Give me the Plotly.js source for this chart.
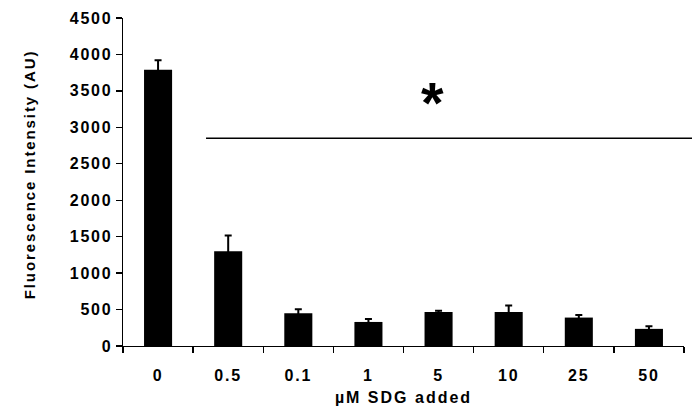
<!DOCTYPE html>
<html>
<head>
<meta charset="utf-8">
<script src="https://cdn.plot.ly/plotly-3.0.1.min.js"></script>
<style>
  html, body { margin: 0; padding: 0; background: #fff; }
  #chart { width: 692px; height: 407px; }
  .ytitlespaced { letter-spacing: 1.9px; }
  .xtick text, .ytick text { letter-spacing: 1.8px; }
  .xtitle { letter-spacing: 2px; }
</style>
</head>
<body>
<div id="chart"></div>
<script>
// Data
const categories = ["0", "0.5", "0.1", "1", "5", "10", "25", "50"];
const intensity = [3790, 1300, 450, 330, 465, 465, 390, 235];
const errorUp = [130, 215, 55, 40, 20, 90, 35, 35];
const yTickVals = [0, 500, 1000, 1500, 2000, 2500, 3000, 3500, 4000, 4500];

// Significance marker (line + asterisk)
const sigLineY = 2850;
const sigStarY = 3440;

const font = "Liberation Sans, Arial, sans-serif";

const trace = {
  type: "bar",
  x: categories,
  y: intensity,
  marker: { color: "#000000", line: { width: 0 } },
  error_y: {
    type: "data",
    array: errorUp,
    symmetric: true,
    visible: true,
    color: "#000000",
    thickness: 2,
    width: 3.5
  },
  hoverinfo: "skip"
};

const layout = {
  width: 692,
  height: 407,
  margin: { l: 123, r: 8, t: 17.5, b: 60.5, pad: 0 },
  paper_bgcolor: "#ffffff",
  plot_bgcolor: "#ffffff",
  showlegend: false,
  bargap: 0.6,
  font: { family: font, color: "#000000" },
  xaxis: {
    type: "category",
    showgrid: false,
    zeroline: false,
    showline: true,
    linecolor: "#000000",
    linewidth: 1.3,
    ticks: "outside",
    tickson: "boundaries",
    ticklen: 6,
    tickwidth: 1.3,
    tickcolor: "#000000",
    ticklabelstandoff: 14,
    tickfont: { family: font, size: 16, color: "#000000", weight: "bold" },
    title: {
      text: "µM SDG added",
      font: { family: font, size: 16, color: "#000000", weight: "bold" },
      standoff: 9
    },
    automargin: false
  },
  yaxis: {
    range: [0, 4500],
    tickvals: yTickVals,
    showgrid: false,
    zeroline: false,
    showline: true,
    linecolor: "#000000",
    linewidth: 1.3,
    ticks: "outside",
    ticklen: 6,
    tickwidth: 1.3,
    tickcolor: "#000000",
    tickfont: { family: font, size: 16, color: "#000000", weight: "bold" },
    automargin: false
  },
  shapes: [
    {
      type: "line",
      xref: "paper",
      yref: "y",
      x0: 0.148,
      x1: 1.02,
      y0: sigLineY,
      y1: sigLineY,
      line: { color: "#000000", width: 1.6 }
    }
  ],
  annotations: [
    {
      text: "*",
      xref: "paper",
      yref: "y",
      x: 0.552,
      y: sigStarY,
      showarrow: false,
      font: { family: font, size: 58, color: "#000000", weight: "bold" },
      xanchor: "center",
      yanchor: "middle",
      yshift: -7
    },
    {
      text: "Fluorescence Intensity (AU)",
      xref: "paper",
      yref: "paper",
      x: -0.166,
      y: 0.522,
      textangle: -90,
      showarrow: false,
      xanchor: "center",
      yanchor: "middle",
      font: { family: font, size: 15, color: "#000000", weight: "bold" }
    }
  ]
};

Plotly.newPlot("chart", [trace], layout, { staticPlot: true, displayModeBar: false }).then(function () {
  const anns = document.querySelectorAll(".annotation-text");
  anns.forEach(function (el) {
    if (el.textContent.indexOf("Fluorescence") === 0) {
      el.classList.add("ytitlespaced");
    }
  });
});
</script>
</body>
</html>
